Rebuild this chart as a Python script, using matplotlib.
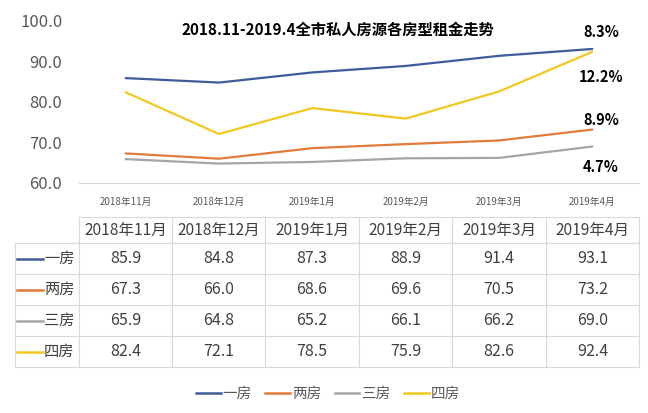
import matplotlib
matplotlib.use('Agg')
from matplotlib import pyplot as plt
from matplotlib.lines import Line2D

plt.rcParams['font.family'] = ['Noto Sans CJK SC', 'DejaVu Sans']

months = ['2018年11月', '2018年12月', '2019年1月', '2019年2月', '2019年3月', '2019年4月']
names = ['一房', '两房', '三房', '四房']
yi = [85.9, 84.8, 87.3, 88.9, 91.4, 93.1]
liang = [67.3, 66.0, 68.6, 69.6, 70.5, 73.2]
san = [65.9, 64.8, 65.2, 66.1, 66.2, 69.0]
si = [82.4, 72.1, 78.5, 75.9, 82.6, 92.4]
growth = ['8.3%', '8.9%', '4.7%', '12.2%']
colors = ['#3E5C99', '#E07B39', '#A5A5A5', '#F0C81E']
series = [yi, liang, san, si]

W, H = 648, 413
fig = plt.figure(figsize=(W / 100, H / 100), dpi=100)
fig.patch.set_facecolor('white')

def fx(px):
    return px / W

def fy(py):
    return 1 - py / H

# line chart
ax = fig.add_axes([fx(79), fy(183), fx(639) - fx(79), fy(21) - fy(183)])
xs = list(range(len(months)))
for vals, c in zip(series, colors):
    ax.plot(xs, vals, color=c, lw=1.6, solid_capstyle='round')
ax.set_xlim(-0.5, len(months) - 0.5)
ax.set_ylim(60, 100)
ax.set_yticks([60, 70, 80, 90, 100])
ax.set_yticklabels(['%.1f' % v for v in [60, 70, 80, 90, 100]])
ax.set_xticks(xs)
ax.set_xticklabels(months)
ax.tick_params(axis='y', length=0, labelsize=12, labelcolor='#595959', pad=12)
ax.tick_params(axis='x', length=0, labelsize=7, labelcolor='#595959', pad=10)
for s in ['top', 'right', 'left']:
    ax.spines[s].set_visible(False)
ax.spines['bottom'].set_color('#D9D9D9')

fig.text(fx(338), fy(30), '2018.11-2019.4全市私人房源各房型租金走势', ha='center', va='center',
         fontsize=11, fontweight='bold', color='black')
# growth labels
label_y = [32, 120, 167, 77]
for g, py in zip(growth, label_y):
    fig.text(fx(601), fy(py), g, ha='center', va='center', fontsize=10.5, fontweight='bold', color='black')

# data table
col_x = [15, 79, 172, 265, 359, 452, 546, 639]
row_y = [217, 243, 274, 305, 336, 367]
grid = '#D9D9D9'
fig.add_artist(Line2D([fx(col_x[1]), fx(col_x[-1])], [fy(row_y[0])] * 2, color=grid, lw=0.8))
for py in row_y[1:]:
    fig.add_artist(Line2D([fx(col_x[0]), fx(col_x[-1])], [fy(py)] * 2, color=grid, lw=0.8))
fig.add_artist(Line2D([fx(col_x[0])] * 2, [fy(row_y[1]), fy(row_y[-1])], color=grid, lw=0.8))
for px in col_x[1:]:
    fig.add_artist(Line2D([fx(px)] * 2, [fy(row_y[0]), fy(row_y[-1])], color=grid, lw=0.8))

txt = '#404040'
for j, m in enumerate(months):
    cx = (col_x[j + 1] + col_x[j + 2]) / 2
    fig.text(fx(cx), fy((row_y[0] + row_y[1]) / 2), m, ha='center', va='center', fontsize=11.2, color=txt)
for i, (n, vals, c) in enumerate(zip(names, series, colors)):
    cy = (row_y[i + 1] + row_y[i + 2]) / 2
    fig.add_artist(Line2D([fx(17), fx(43)], [fy(cy)] * 2, color=c, lw=1.8))
    fig.text(fx(44), fy(cy), n, ha='left', va='center', fontsize=11, color=txt)
    for j, v in enumerate(vals):
        cx = (col_x[j + 1] + col_x[j + 2]) / 2
        fig.text(fx(cx), fy(cy), '%.1f' % v, ha='center', va='center', fontsize=11.5, color=txt)

# bottom legend
handles = [Line2D([], [], color=c, lw=1.8) for c in colors]
leg = fig.legend(handles, names, loc='center', bbox_to_anchor=(fx(328), fy(394)), ncol=4, frameon=False,
                 fontsize=10.5, handlelength=1.7, handletextpad=0.15, columnspacing=0.9, labelcolor='#595959')

fig.savefig('out.png', dpi=100, facecolor='white')
